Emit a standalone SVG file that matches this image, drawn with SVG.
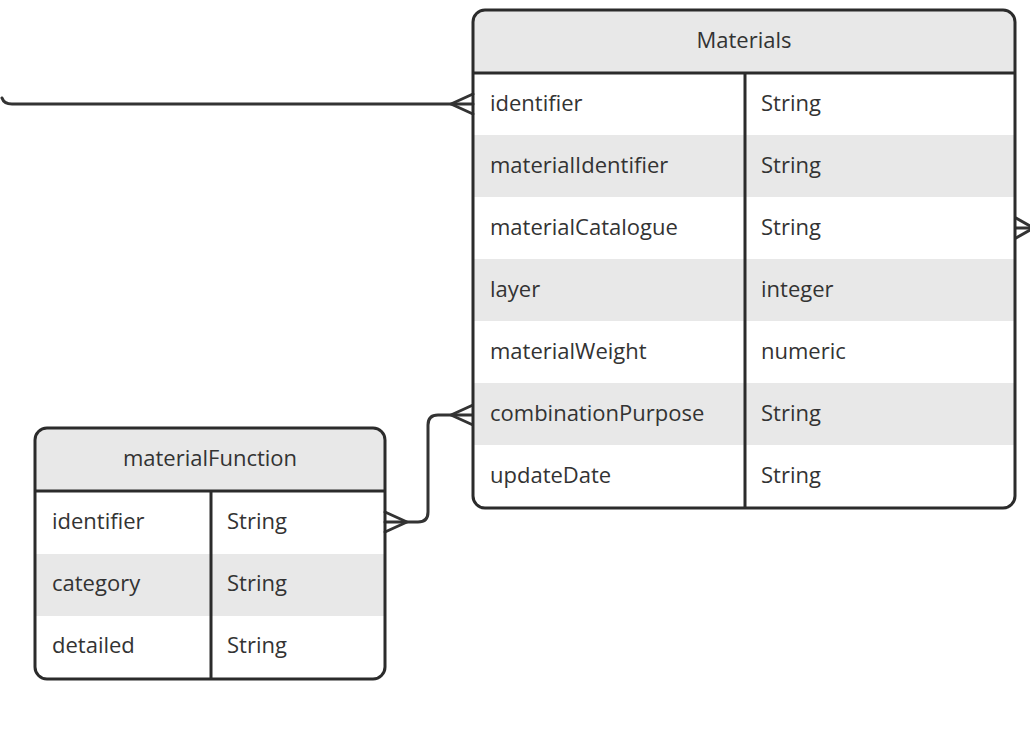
<svg xmlns="http://www.w3.org/2000/svg" width="1030" height="743" viewBox="0 0 1030 743">
<style>
text{font-family:"Open Sans","Liberation Sans",sans-serif;font-size:22px;fill:#333}
.h{text-anchor:middle}
.frame{fill:none;stroke:#2b2b2b;stroke-width:3}
.ln{stroke:#2b2b2b;stroke-width:3;fill:none}
.sh{fill:#e8e8e8}
.c{fill:none;stroke:#333;stroke-width:3;stroke-linejoin:round;stroke-linecap:round}
</style>
<rect width="1030" height="743" fill="#fff"/>
<g id="connectors">
<path class="c" d="M2,98 Q4,104 12,104 L473,104"/>
<path class="c" d="M473,94 L451,104 L473,114"/>
<path class="c" d="M385,522 L418,522 Q428,522 428,512 L428,425 Q428,415 438,415 L473,415"/>
<path class="c" d="M385,512 L407,522 L385,532"/>
<path class="c" d="M473,405 L451,415 L473,425"/>
<path class="c" d="M1016,228 L1030,228"/>
<path class="c" d="M1016,218 L1030,226 M1016,238 L1030,230"/>
</g>
<g id="materials">
<path class="sh" d="M473,73 V22 Q473,10 485,10 H1003 Q1015,10 1015,22 V73 Z"/>
<rect class="sh" x="473" y="135" width="542" height="62"/>
<rect class="sh" x="473" y="259" width="542" height="62"/>
<rect class="sh" x="473" y="383" width="542" height="62"/>
<rect class="frame" x="473" y="10" width="542" height="498" rx="12"/>
<line class="ln" x1="473" y1="73" x2="1015" y2="73"/>
<line class="ln" x1="745" y1="73" x2="745" y2="508"/>
<text class="h" x="744" y="48">Materials</text>
<text x="490" y="111">identifier</text><text x="761" y="111">String</text>
<text x="490" y="173">materialIdentifier</text><text x="761" y="173">String</text>
<text x="490" y="235">materialCatalogue</text><text x="761" y="235">String</text>
<text x="490" y="297">layer</text><text x="761" y="297">integer</text>
<text x="490" y="359">materialWeight</text><text x="761" y="359">numeric</text>
<text x="490" y="421">combinationPurpose</text><text x="761" y="421">String</text>
<text x="490" y="483">updateDate</text><text x="761" y="483">String</text>
</g>
<g id="materialFunction">
<path class="sh" d="M35,491 V440 Q35,428 47,428 H373 Q385,428 385,440 V491 Z"/>
<rect class="sh" x="35" y="554" width="350" height="62"/>
<rect class="frame" x="35" y="428" width="350" height="251" rx="12"/>
<line class="ln" x1="35" y1="491" x2="385" y2="491"/>
<line class="ln" x1="211" y1="491" x2="211" y2="679"/>
<text class="h" x="210" y="466">materialFunction</text>
<text x="52" y="529">identifier</text><text x="227" y="529">String</text>
<text x="52" y="591">category</text><text x="227" y="591">String</text>
<text x="52" y="653">detailed</text><text x="227" y="653">String</text>
</g>
</svg>
